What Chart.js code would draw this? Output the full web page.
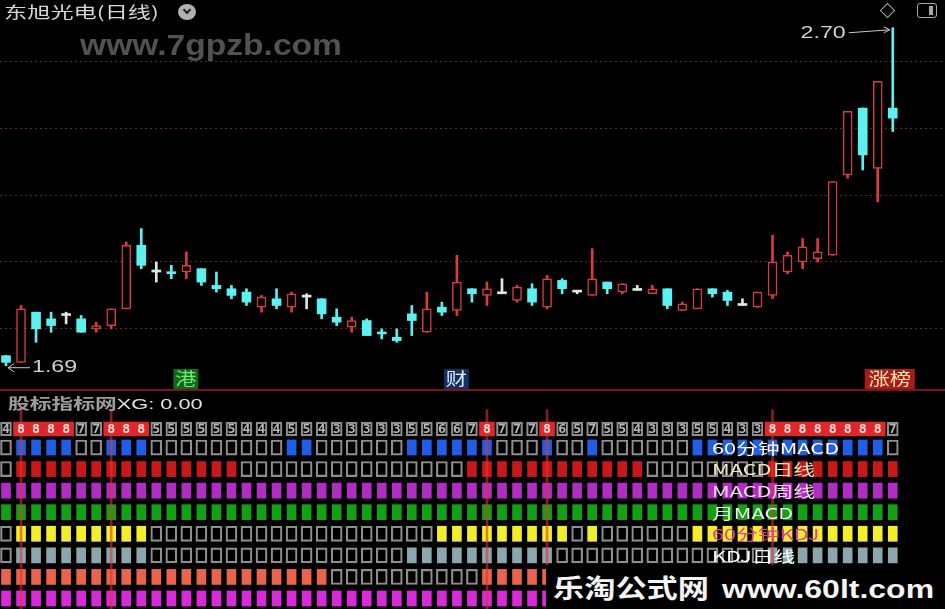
<!DOCTYPE html>
<html>
<head>
<meta charset="utf-8">
<title>东旭光电(日线)</title>
<script src="https://cdn.jsdelivr.net/npm/chart.js@4.4.1/dist/chart.umd.min.js"></script>
<style>
  html, body { margin: 0; padding: 0; background: #000; }
  #wrap { position: relative; width: 945px; height: 609px; overflow: hidden; background: #000;
          font-family: "Noto Sans CJK SC", "Noto Sans", sans-serif; }
  #wrap canvas { position: absolute; left: 0; }
  #kline { top: 0; }
  #signals { top: 390px; }
  .txt { position: absolute; white-space: nowrap; line-height: 1; transform-origin: 0 50%; }
  #title { left: 4px; top: 3px; font-size: 16px; color: #d6d6d6; transform: scaleX(1.45); }
  #chev { position: absolute; left: 178px; top: 4px; width: 18px; height: 16px; border-radius: 50%; background: #b0b0b0; }
  #chev:after { content: ''; position: absolute; left: 6px; top: 3px; width: 4px; height: 4px;
                border-right: 2px solid #222; border-bottom: 2px solid #222; transform: rotate(45deg); }
  #site1 { left: 80px; top: 28px; font: bold 30px "Liberation Sans", sans-serif; color: #525252; transform: scaleX(1.12); }
  #diamond { position: absolute; left: 882px; top: 5px; width: 9px; height: 9px; border: 1.5px solid #a8a8a8; transform: rotate(45deg); }
  #panel { position: absolute; left: 917px; top: 3px; width: 18px; height: 13px; border: 1.5px solid #a8a8a8; border-radius: 3px; }
  #panel:after { content: ''; position: absolute; right: 3px; top: 2px; width: 4px; height: 9px; background: #a8a8a8; }
  #sep { position: absolute; left: 0; top: 389px; width: 945px; height: 2px; background: #7a1424; }
  #xg { left: 8px; top: 395px; font-size: 15px; transform: scaleX(1.45); }
  #xg b { color: #9c9c9c; }
  #xg span { color: #e2e2e2; font-family: "Liberation Sans", sans-serif; }
  .lab { left: 712px; font-size: 15px; transform: scaleX(1.45); }
  #wm { position: absolute; left: 546px; top: 565px; width: 399px; height: 44px; background: #000; }
  #wm1 { left: 553px; top: 574px; font-weight: bold; font-size: 26px; color: #f4f4f4; transform: scaleX(1.2); }
  #wm2 { left: 722px; top: 574px; font: bold 26px "Liberation Sans", sans-serif; color: #f4f4f4; transform: scaleX(1.23); }
</style>
</head>
<body>
<div id="wrap">
  <canvas id="kline" width="945" height="390"></canvas>
  <canvas id="signals" width="945" height="219"></canvas>
  <div class="txt" id="title">东旭光电(日线)</div>
  <div id="chev"></div>
  <div class="txt" id="site1">www.7gpzb.com</div>
  <div id="diamond"></div>
  <div id="panel"></div>
  <div id="sep"></div>
  <div class="txt" id="xg"><b>股标指标网</b><span>XG: 0.00</span></div>
  <div class="txt lab" style="top:440px;color:#ffffff">60分钟MACD</div>
  <div class="txt lab" style="top:461px;color:#f2e6c0">MACD日线</div>
  <div class="txt lab" style="top:483px;color:#f2dcea">MACD周线</div>
  <div class="txt lab" style="top:505px;color:#eaf2ea">月MACD</div>
  <div class="txt lab" style="top:526px;color:#e03c9c">60分钟KDJ</div>
  <div class="txt lab" style="top:548px;color:#ffffff">KDJ日线</div>
  <div id="wm"></div>
  <div class="txt" id="wm1">乐淘公式网</div>
  <div class="txt" id="wm2">www.60lt.com</div>
</div>
<script>
  // ── K-line data (60 daily bars) ──
  var candleOpen  = [1.72,1.70,1.85,1.83,1.84,1.83,1.80,1.81,1.86,2.05,
                     1.97,1.97,1.97,1.98,1.93,1.92,1.91,1.865,1.89,1.865,
                     1.895,1.89,1.835,1.805,1.825,1.79,1.775,1.845,1.79,1.865,
                     1.855,1.92,1.90,1.905,1.885,1.92,1.865,1.945,1.91,1.90,
                     1.94,1.91,1.915,1.905,1.92,1.855,1.86,1.92,1.91,1.87,
                     1.865,1.90,1.97,2.00,2.01,2.02,2.26,2.46,2.28,2.46];
  var candleHigh  = [1.72,1.87,1.85,1.85,1.85,1.84,1.82,1.86,2.06,2.10,
                     2.00,1.99,2.03,1.98,1.97,1.93,1.92,1.90,1.92,1.91,
                     1.905,1.89,1.86,1.835,1.83,1.80,1.80,1.87,1.91,1.88,
                     2.02,1.92,1.94,1.95,1.93,1.935,1.96,1.95,1.915,2.04,
                     1.94,1.935,1.93,1.93,1.92,1.88,1.92,1.92,1.915,1.89,
                     1.91,2.08,2.03,2.07,2.07,2.24,2.45,2.46,2.54,2.70];
  var candleLow   = [1.69,1.70,1.76,1.79,1.815,1.79,1.79,1.80,1.86,1.98,
                     1.94,1.95,1.95,1.93,1.91,1.89,1.87,1.85,1.86,1.85,
                     1.86,1.83,1.81,1.79,1.78,1.77,1.76,1.78,1.79,1.84,
                     1.84,1.88,1.87,1.905,1.88,1.87,1.86,1.905,1.905,1.90,
                     1.905,1.905,1.915,1.905,1.86,1.855,1.86,1.895,1.87,1.87,
                     1.865,1.89,1.965,1.98,2.00,2.02,2.25,2.275,2.18,2.39];
  var candleClose = [1.70,1.86,1.80,1.81,1.84,1.79,1.81,1.86,2.05,1.99,
                     1.97,1.965,1.99,1.94,1.92,1.90,1.88,1.895,1.87,1.905,
                     1.895,1.845,1.82,1.825,1.78,1.785,1.765,1.825,1.86,1.85,
                     1.94,1.905,1.92,1.905,1.925,1.88,1.95,1.92,1.91,1.95,
                     1.92,1.935,1.915,1.92,1.87,1.875,1.92,1.905,1.885,1.87,
                     1.91,2.00,2.02,2.045,2.03,2.24,2.45,2.32,2.54,2.43];
  var priceGrid = [1.8, 2.0, 2.2, 2.4, 2.6];
  var eventIdx  = [12, 30, 58];
  var eventText = ['港', '财', '涨榜'];

  // ── Indicator grid (1 = condition met), digit = count of lit rows ──
  var digitRow  = [4,8,8,8,8,7,7,8,8,8, 5,5,5,5,5,5,4,4,4,5, 5,4,3,3,3,3,3,5,5,6,
                   6,7,8,7,7,7,8,6,5,7, 5,5,4,3,3,3,5,5,4,3, 3,8,8,8,8,8,8,8,8,7];
  var macd60    = [0,1,1,1,1,0,0,1,1,1, 0,0,0,0,0,0,0,0,0,1, 1,0,0,0,0,0,0,1,1,1,
                   1,1,1,0,0,0,1,0,0,1, 0,0,0,0,0,0,1,1,1,1, 1,1,1,1,1,1,1,1,1,0];
  var macdDay   = [0,1,1,1,1,1,1,1,1,1, 1,1,1,1,1,1,0,0,0,0, 0,0,0,0,0,0,0,0,0,0,
                   0,1,1,1,1,1,1,1,1,1, 1,1,1,0,0,0,0,0,0,0, 0,1,1,1,1,1,1,1,1,1];
  var macdWeek  = [1,1,1,1,1,1,1,1,1,1, 1,1,1,1,1,1,1,1,1,1, 1,1,1,1,1,1,1,1,1,1,
                   1,1,1,1,1,1,1,1,1,1, 1,1,1,1,1,1,1,1,1,1, 1,1,1,1,1,1,1,1,1,1];
  var macdMonth = [1,1,1,1,1,1,1,1,1,1, 1,1,1,1,1,1,1,1,1,1, 1,1,1,1,1,1,1,1,1,1,
                   1,1,1,1,1,1,1,1,1,1, 1,1,1,1,1,1,1,1,1,1, 1,1,1,1,1,1,1,1,1,1];
  var kdj60     = [0,1,1,1,1,1,1,1,1,1, 0,0,0,0,0,0,0,0,0,0, 0,0,0,0,0,0,0,0,0,1,
                   1,1,1,1,1,1,1,1,0,1, 0,0,0,0,0,0,1,1,1,1, 1,1,1,1,1,1,1,1,1,1];
  var kdjDay    = [0,1,1,1,1,1,1,1,1,1, 0,0,0,0,0,0,0,0,0,0, 0,0,0,0,0,0,0,1,1,1,
                   1,1,1,1,1,1,1,0,0,0, 0,0,0,0,0,0,0,0,0,0, 0,1,1,1,1,1,1,1,1,1];
  var sig7      = [1,1,1,1,1,1,1,1,1,1, 1,1,1,1,1,1,1,1,1,1, 1,1,0,0,0,0,0,0,0,0,
                   0,0,1,1,1,1,1,1,1,1, 1,1,0,0,0,0,0,0,0,0, 0,1,1,1,1,1,1,1,1,1];
  var sig8      = [1,1,1,1,1,1,1,1,1,1, 1,1,1,1,1,1,1,1,1,1, 1,1,1,1,1,1,1,1,1,1,
                   1,1,1,1,1,1,1,1,1,1, 1,1,1,1,1,1,1,1,1,1, 1,1,1,1,1,1,1,1,1,1];
  var signalIdx = [1, 7, 32, 36, 51];

  var UP = '#d83c3c', DOWN = '#5cf0f0', FLAT = '#e4e4e4';
  var rowColors = ['#1f5ee6', '#c81818', '#b02cc4', '#14a014', '#f2ee2c', '#8aa6ae', '#e8644e', '#d82ad8'];
  var DIGIT_Y = 0.14;

  function candleColor(i) {
    if (candleClose[i] > candleOpen[i]) return UP;
    if (candleClose[i] < candleOpen[i]) return DOWN;
    return FLAT;
  }

  function stretchText(ctx, text, x, y, align, sx) {
    ctx.save();
    ctx.translate(x, y);
    ctx.scale(sx, 1);
    ctx.textAlign = align;
    ctx.textBaseline = 'middle';
    ctx.fillText(text, 0, 0);
    ctx.restore();
  }

  // shared x axis: one bar every ~15px, first bar at x=6
  function xAxis() {
    return { type: 'linear', min: -0.399, max: 62.475, offset: false, display: false };
  }

  // high/low markers and event tags
  var markPlugin = {
    id: 'marks',
    afterDatasetsDraw: function(chart) {
      var ctx = chart.ctx, xs = chart.scales.x, ys = chart.scales.y;
      var hi = 0, lo = 0;
      for (var i = 1; i < candleHigh.length; i++) {
        if (candleHigh[i] > candleHigh[hi]) hi = i;
        if (candleLow[i] < candleLow[lo]) lo = i;
      }
      ctx.save();
      ctx.strokeStyle = '#c8c8c8';
      ctx.fillStyle = '#d2d2d2';
      ctx.lineWidth = 1;
      ctx.font = '16px "Liberation Sans"';

      var hx = xs.getPixelForValue(hi), hy = ys.getPixelForValue(candleHigh[hi]);
      ctx.beginPath();
      ctx.moveTo(hx - 44, hy + 5); ctx.lineTo(hx - 3, hy + 2);
      ctx.moveTo(hx - 9, hy - 1); ctx.lineTo(hx - 3, hy + 2); ctx.lineTo(hx - 9, hy + 5);
      ctx.stroke();
      stretchText(ctx, candleHigh[hi].toFixed(2), hx - 47, hy + 6, 'right', 1.45);

      var lx = xs.getPixelForValue(lo), ly = ys.getPixelForValue(candleLow[lo]);
      ctx.beginPath();
      ctx.moveTo(lx + 24, ly + 2); ctx.lineTo(lx + 2, ly + 2);
      ctx.moveTo(lx + 8, ly - 2); ctx.lineTo(lx + 2, ly + 2); ctx.lineTo(lx + 8, ly + 6);
      ctx.stroke();
      stretchText(ctx, candleLow[lo].toFixed(2), lx + 26, ly + 2, 'left', 1.45);

      var tagBg = ['#14661e', '#16305c', '#a81c1c'];
      var tagFg = ['#66ee66', '#dde8ff', '#ffe4a8'];
      ctx.font = '17px "Noto Sans CJK SC"';
      eventIdx.forEach(function(idx, k) {
        var left = xs.getPixelForValue(idx) - 13;
        var w = 25 * eventText[k].length;
        ctx.fillStyle = tagBg[k];
        ctx.fillRect(left, 369, w, 20);
        ctx.fillStyle = tagFg[k];
        stretchText(ctx, eventText[k], left + w / 2, 379, 'center', 1.25);
      });
      ctx.restore();
    }
  };

  var kChart = new Chart(document.getElementById('kline'), {
    type: 'bar',
    data: {
      datasets: [{
        label: 'wick',
        order: 2,
        barThickness: 2,
        data: candleHigh.map(function(h, i) { return { x: i, y: [candleLow[i], h] }; }),
        backgroundColor: function(c) { return candleColor(c.dataIndex); }
      }, {
        label: 'body',
        order: 1,
        barThickness: 9,
        minBarLength: 2,
        borderSkipped: false,
        data: candleOpen.map(function(o, i) { return { x: i, y: [o, candleClose[i]] }; }),
        backgroundColor: function(c) {
          var i = c.dataIndex;
          return candleClose[i] > candleOpen[i] ? '#000' : candleColor(i);
        },
        borderColor: function(c) { return candleColor(c.dataIndex); },
        borderWidth: function(c) {
          var i = c.dataIndex;
          return candleClose[i] > candleOpen[i] ? 1.5 : 0;
        }
      }]
    },
    options: {
      responsive: false,
      animation: false,
      events: [],
      datasets: { bar: { grouped: false } },
      plugins: { legend: { display: false }, tooltip: { enabled: false } },
      scales: {
        x: xAxis(),
        y: {
          type: 'linear',
          min: 1.6174,
          max: 2.783,
          afterBuildTicks: function(ax) { ax.ticks = priceGrid.map(function(v) { return { value: v }; }); },
          ticks: { display: false },
          grid: { color: '#6a2222', drawTicks: false, lineWidth: 1 },
          border: { display: false, dash: [2, 3] }
        }
      }
    },
    plugins: [markPlugin]
  });

  // ── Indicator grid ──
  var rowData = [macd60, macdDay, macdWeek, macdMonth, kdj60, kdjDay, sig7, sig8];
  var gridSets = [];
  rowData.forEach(function(row, r) {
    var on = [], off = [];
    row.forEach(function(v, i) {
      (v ? on : off).push({ x: i, y: [r + 1 - 0.35, r + 1 + 0.35] });
    });
    gridSets.push({ order: 3, barThickness: 9, data: on, backgroundColor: rowColors[r] });
    gridSets.push({ order: 3, barThickness: 11, data: off, backgroundColor: 'rgba(0,0,0,0)',
                    borderColor: '#8e8e8e', borderWidth: 1.5, borderSkipped: false });
  });

  var digitHot = [], digitBox = [];
  digitRow.forEach(function(d, i) {
    (d === 8 ? digitHot : digitBox).push({ x: i, y: [DIGIT_Y - 0.32, DIGIT_Y + 0.32] });
  });
  gridSets.push({ order: 2, barThickness: 15, data: digitHot, backgroundColor: '#e02828' });
  gridSets.push({ order: 2, barThickness: 11, data: digitBox, backgroundColor: 'rgba(0,0,0,0)',
                  borderColor: '#8e8e8e', borderWidth: 1.5, borderSkipped: false });
  gridSets.push({ order: 0, barThickness: 2,
                  data: signalIdx.map(function(i) { return { x: i, y: [-0.75, 8.5] }; }),
                  backgroundColor: 'rgba(225,50,50,0.6)' });

  var digitPlugin = {
    id: 'digits',
    afterDatasetsDraw: function(chart) {
      var ctx = chart.ctx, xs = chart.scales.x, ys = chart.scales.y;
      var y = ys.getPixelForValue(DIGIT_Y);
      ctx.save();
      ctx.font = 'bold 12px "DejaVu Sans Mono"';
      digitRow.forEach(function(d, i) {
        ctx.fillStyle = d === 8 ? '#ffe2e2' : '#b4b4b4';
        stretchText(ctx, String(d), xs.getPixelForValue(i), y + 1, 'center', 1.1);
      });
      ctx.restore();
    }
  };

  var sChart = new Chart(document.getElementById('signals'), {
    type: 'bar',
    data: { datasets: gridSets },
    options: {
      responsive: false,
      animation: false,
      events: [],
      datasets: { bar: { grouped: false } },
      plugins: { legend: { display: false }, tooltip: { enabled: false } },
      scales: {
        x: xAxis(),
        y: { type: 'linear', reverse: true, min: -1.666, max: 8.487, display: false }
      }
    },
    plugins: [digitPlugin]
  });
</script>
</body>
</html>
